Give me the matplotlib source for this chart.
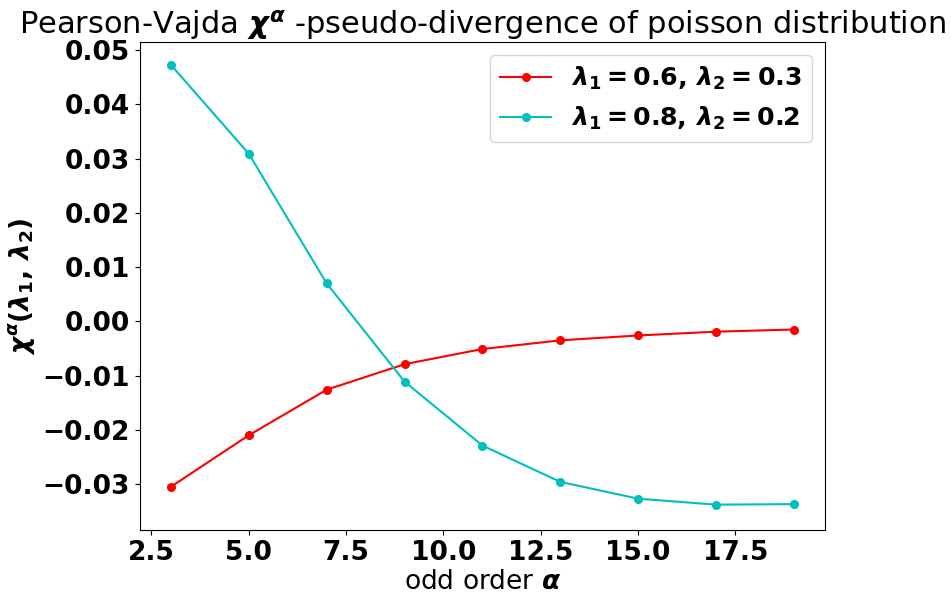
import matplotlib
matplotlib.use('Agg')
import matplotlib.pyplot as plt

# todo el texto matemático en negrita
plt.rcParams['mathtext.fontset'] = 'custom'
plt.rcParams['mathtext.it'] = 'DejaVu Sans:italic:bold'
plt.rcParams['mathtext.rm'] = 'DejaVu Sans:bold'
plt.rcParams['mathtext.bf'] = 'DejaVu Sans:bold'

# orden impar alpha
orden = [3, 5, 7, 9, 11, 13, 15, 17, 19]

chi_06_03 = [-0.0305, -0.0210, -0.0126, -0.0079, -0.0051, -0.0035, -0.0026, -0.0019, -0.0015]
chi_08_02 = [0.0473, 0.0309, 0.0070, -0.0111, -0.0229, -0.0296, -0.0327, -0.0338, -0.0337]

etiquetas = [r'$\lambda_1 = 0.6,\,\lambda_2 = 0.3$',
             r'$\lambda_1 = 0.8,\,\lambda_2 = 0.2$']

fig = plt.figure(figsize=(9.51, 5.93), dpi=100)
ax = fig.add_axes([0.147, 0.106, 0.7205, 0.823])

ax.plot(orden, chi_06_03, 'r-o', markersize=5.5, label=etiquetas[0])
ax.plot(orden, chi_08_02, 'c-o', markersize=5.5, label=etiquetas[1])

ax.set_title(r'Pearson-Vajda $\chi^\alpha$ -pseudo-divergence of poisson distribution',
             fontsize=22, pad=6)
ax.set_xlabel(r'odd order $\alpha$', fontsize=19, labelpad=2)
ax.set_ylabel(r'$\chi^\alpha(\lambda_1,\,\lambda_2)$', fontsize=19)

for lab in ax.get_xticklabels() + ax.get_yticklabels():
    lab.set_fontweight('bold')
ax.tick_params(labelsize=19)
ax.set_ylim(-0.0385, 0.0515)
ax.set_xlim(2.2, 19.8)

ax.legend(fontsize=18.2, loc='upper right')

fig.savefig('out.png', dpi=100)
